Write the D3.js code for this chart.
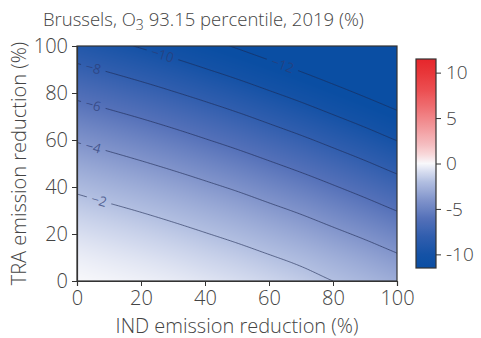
<!DOCTYPE html>
<html><head><meta charset="utf-8">
<script src="https://cdn.jsdelivr.net/npm/d3@7"></script>
<style>
body{margin:0;background:#fff}
text{font-family:"Open Sans",Lato,sans-serif;font-weight:300}
</style>
</head><body>
<svg id="chart" width="481" height="338"></svg>
<script>
// ---- data ----
const indReduction = [0,10,20,30,40,50,60,70,80,90,100];   // x grid (%)
const traReduction = [0,10,20,30,40,50,60,70,80,90,100];   // y grid (%)
// O3 93.15 percentile change (%), rows = TRA reduction, cols = IND reduction
const o3Row0   = [0,-0.13,-0.27,-0.44,-0.66,-0.90,-1.20,-1.55,-2.00,-2.42,-2.88];
const o3Row10  = [-0.35,-0.54,-0.73,-0.96,-1.24,-1.54,-1.90,-2.29,-2.76,-3.25,-3.81];
const o3Row20  = [-0.85,-1.08,-1.33,-1.62,-1.95,-2.31,-2.73,-3.18,-3.70,-4.25,-4.87];
const o3Row30  = [-1.48,-1.76,-2.06,-2.40,-2.78,-3.19,-3.67,-4.17,-4.75,-5.36,-6.03];
const o3Row40  = [-2.24,-2.57,-2.91,-3.30,-3.73,-4.19,-4.72,-5.27,-5.89,-6.55,-7.27];
const o3Row50  = [-3.12,-3.49,-3.88,-4.31,-4.78,-5.29,-5.86,-6.46,-7.12,-7.83,-8.61];
const o3Row60  = [-4.11,-4.51,-4.94,-5.41,-5.93,-6.48,-7.09,-7.73,-8.45,-9.21,-10.05];
const o3Row70  = [-5.20,-5.64,-6.10,-6.61,-7.16,-7.75,-8.41,-9.11,-9.88,-10.69,-11.58];
const o3Row80  = [-6.38,-6.85,-7.35,-7.90,-8.49,-9.13,-9.84,-10.58,-11.40,-12.27,-13.20];
const o3Row90  = [-7.65,-8.16,-8.70,-9.28,-9.93,-10.61,-11.36,-12.15,-13.01,-13.91,-14.88];
const o3Row100 = [-9.02,-9.57,-10.14,-10.77,-11.45,-12.17,-12.96,-13.79,-14.68,-15.62,-16.62];
const contourLevels = [-12,-10,-8,-6,-4,-2];
const contourLabelX = [64.2,26.7,5.1,5.1,5.1,6.9];   // IND position of each inline label
const xTicks = [0,20,40,60,80,100];
const yTicks = [0,20,40,60,80,100];
const cbTicks = [-10,-5,0,5,10];
const cbDomain = [-11.5,11.5];
const colorStops = [-11.5,-10,-8,-6,-4,-2,-1,0,1,2,4,6,8,10,11.5];
const colorValues = ["#0a4ea3","#1552a6","#315eae","#5571b9","#8194cb","#b2bfe1","#d3daee","#f8f8fb",
                     "#f8d8da","#f5bfc2","#f2989b","#ef7275","#ec4f52","#e83639","#e6262b"];
const titleParts = ["Brussels, O","3"," 93.15 percentile, 2019 (%)"];
const xLabel = "IND emission reduction (%)";
const yLabel = "TRA emission reduction (%)";

const grid = [o3Row0,o3Row10,o3Row20,o3Row30,o3Row40,o3Row50,o3Row60,o3Row70,o3Row80,o3Row90,o3Row100];

// ---- layout ----
const FONT = "'Open Sans', Lato, sans-serif";
const svg = d3.select("#chart");
const x = d3.scaleLinear().domain([0,100]).range([77,397]);
const y = d3.scaleLinear().domain([0,100]).range([281,46]);
const color = d3.scaleLinear().domain(colorStops).range(colorValues).clamp(true);

const nx = indReduction.length, ny = traReduction.length;
const stepX = indReduction[1]-indReduction[0], stepY = traReduction[1]-traReduction[0];
function g(j,i){
  if(i<0) return 2*g(j,0)-g(j,1);
  if(i>nx-1) return 2*g(j,nx-1)-g(j,nx-2);
  if(j<0) return 2*g(0,i)-g(1,i);
  if(j>ny-1) return 2*g(ny-1,i)-g(ny-2,i);
  return grid[j][i];
}
function cr(p0,p1,p2,p3,t){
  return 0.5*((2*p1)+(-p0+p2)*t+(2*p0-5*p1+4*p2-p3)*t*t+(-p0+3*p1-3*p2+p3)*t*t*t);
}
function val(xd, yd){
  const fx = (xd-indReduction[0])/stepX, fy = (yd-traReduction[0])/stepY;
  const i = Math.max(0, Math.min(nx-2, Math.floor(fx)));
  const j = Math.max(0, Math.min(ny-2, Math.floor(fy)));
  const tx = fx-i, ty = fy-j;
  const rows = [-1,0,1,2].map(dj=>cr(g(j+dj,i-1),g(j+dj,i),g(j+dj,i+1),g(j+dj,i+2),tx));
  return cr(rows[0],rows[1],rows[2],rows[3],ty);
}

// heat map raster
const [px0,px1] = x.range(), [py1,py0] = y.range();
const W = Math.round(px1-px0), H = Math.round(py1-py0);
const cv = document.createElement("canvas"); cv.width=W; cv.height=H;
const ctx = cv.getContext("2d");
const img = ctx.createImageData(W,H);
for(let py=0; py<H; py++){
  for(let px=0; px<W; px++){
    const c = d3.rgb(color(val(x.invert(px0+px+0.5), y.invert(py0+py+0.5))));
    const k = (py*W+px)*4;
    img.data[k]=c.r; img.data[k+1]=c.g; img.data[k+2]=c.b; img.data[k+3]=255;
  }
}
ctx.putImageData(img,0,0);
svg.append("image").attr("x",px0).attr("y",py0).attr("width",W).attr("height",H)
  .attr("preserveAspectRatio","none").attr("href",cv.toDataURL());

// contours
const fine = 0.5, N = Math.round(100/fine)+1;
const values = new Array(N*N);
for(let j=0;j<N;j++) for(let i=0;i<N;i++) values[j*N+i] = val(i*fine, j*fine);
const contours = d3.contours().size([N,N]).thresholds(contourLevels)(values);
const proj = d3.geoTransform({point(cx,cy){ this.stream.point(x((cx-0.5)*fine), y((cy-0.5)*fine)); }});
const path = d3.geoPath(proj);

const defs = svg.append("defs");
defs.append("clipPath").attr("id","plotclip").append("rect")
  .attr("x",px0).attr("y",py0).attr("width",W).attr("height",H);
const mask = defs.append("mask").attr("id","labelmask").attr("maskUnits","userSpaceOnUse")
  .attr("x",0).attr("y",0).attr("width",481).attr("height",338);
mask.append("rect").attr("x",0).attr("y",0).attr("width",481).attr("height",338).attr("fill","#fff");

function crossY(xd, level){
  let prev = val(xd,0);
  for(let yd=0.1; yd<=100.0001; yd+=0.1){
    const v = val(xd,yd);
    if((prev-level)*(v-level)<=0){ return yd-0.1 + 0.1*(prev-level)/(prev-v); }
    prev = v;
  }
  return null;
}

const labelG = svg.append("g");
contourLevels.forEach((lv,k)=>{
  const xd = contourLabelX[k];
  const yd = crossY(xd, lv);
  if(yd===null) return;
  const xa = Math.max(0,xd-3), xb = xd+3;
  const ya = crossY(xa, lv), yb = crossY(xb, lv);
  const ang = Math.atan2(y(yb)-y(ya), x(xb)-x(xa))*180/Math.PI;
  const cx = x(xd), cy = y(yd);
  const t = labelG.append("text").attr("transform",`translate(${cx},${cy}) rotate(${ang})`)
    .attr("text-anchor","middle").attr("dy","0.36em")
    .attr("font-size",13.5).attr("fill","#2c3c74").attr("fill-opacity",0.7)
    .style("font-family",FONT).style("font-weight",400)
    .text("\u2212"+Math.abs(lv));
  const w = t.node().getComputedTextLength();
  mask.append("rect").attr("x",-w/2-5).attr("y",-7).attr("width",w+10).attr("height",14)
    .attr("fill","#000").attr("transform",`translate(${cx},${cy}) rotate(${ang})`);
});

svg.insert("g", "g").attr("clip-path","url(#plotclip)").append("g").attr("mask","url(#labelmask)")
  .selectAll("path").data(contours).join("path")
  .attr("d",path).attr("fill","none").attr("stroke","#1c2850").attr("stroke-opacity",0.6)
  .attr("stroke-width",1);

// frame and axes
svg.append("rect").attr("x",px0).attr("y",py0).attr("width",W).attr("height",H)
  .attr("fill","none").attr("stroke","#333").attr("stroke-width",1.2);

const gx = svg.append("g").attr("transform",`translate(0,${py1})`)
  .call(d3.axisBottom(x).tickValues(xTicks).tickSize(5).tickPadding(5).tickFormat(d3.format("d")));
const gy = svg.append("g").attr("transform",`translate(${px0},0)`)
  .call(d3.axisLeft(y).tickValues(yTicks).tickSize(5).tickPadding(4).tickFormat(d3.format("d")));
[gx,gy].forEach(g=>{
  g.select(".domain").attr("stroke","#333").attr("stroke-width",1.2);
  g.selectAll(".tick line").attr("stroke","#333");
  g.selectAll("text").attr("font-size",20).attr("fill","#444").style("font-family",FONT).style("font-weight",300);
});

// titles
const tt = svg.append("text").attr("x",43).attr("y",26).attr("font-size",18.5).attr("fill","#444");
tt.append("tspan").text(titleParts[0]);
tt.append("tspan").attr("font-size",14).attr("dy",4).text(titleParts[1]);
tt.append("tspan").attr("dy",-4).text(titleParts[2]);

svg.append("text").attr("x",(px0+px1)/2).attr("y",333).attr("text-anchor","middle")
  .attr("font-size",20).attr("fill","#444").text(xLabel);
svg.append("text").attr("transform",`translate(26,${(py0+py1)/2}) rotate(-90)`).attr("text-anchor","middle")
  .attr("font-size",20).attr("fill","#444").text(yLabel);

// colour bar
const cbX = 416, cbW = 20;
const cb = d3.scaleLinear().domain(cbDomain).range([268,59]);
const grad = defs.append("linearGradient").attr("id","cbgrad").attr("x1",0).attr("y1",1).attr("x2",0).attr("y2",0);
d3.range(0,1.0001,1/46).forEach(t=>{
  const v = cbDomain[0]+t*(cbDomain[1]-cbDomain[0]);
  grad.append("stop").attr("offset",t).attr("stop-color",color(v));
});
svg.append("rect").attr("x",cbX).attr("y",cb(cbDomain[1])).attr("width",cbW)
  .attr("height",cb(cbDomain[0])-cb(cbDomain[1])).attr("fill","url(#cbgrad)")
  .attr("stroke","#333").attr("stroke-width",1.2);
const gc = svg.append("g").attr("transform",`translate(${cbX+cbW},0)`)
  .call(d3.axisRight(cb).tickValues(cbTicks).tickSize(5).tickPadding(5).tickFormat(d=>d<0?"-"+Math.abs(d):d));
gc.select(".domain").remove();
gc.selectAll(".tick line").attr("stroke","#333");
gc.selectAll("text").attr("font-size",19).attr("fill","#444").style("font-family",FONT).style("font-weight",300);
</script>
</body></html>
